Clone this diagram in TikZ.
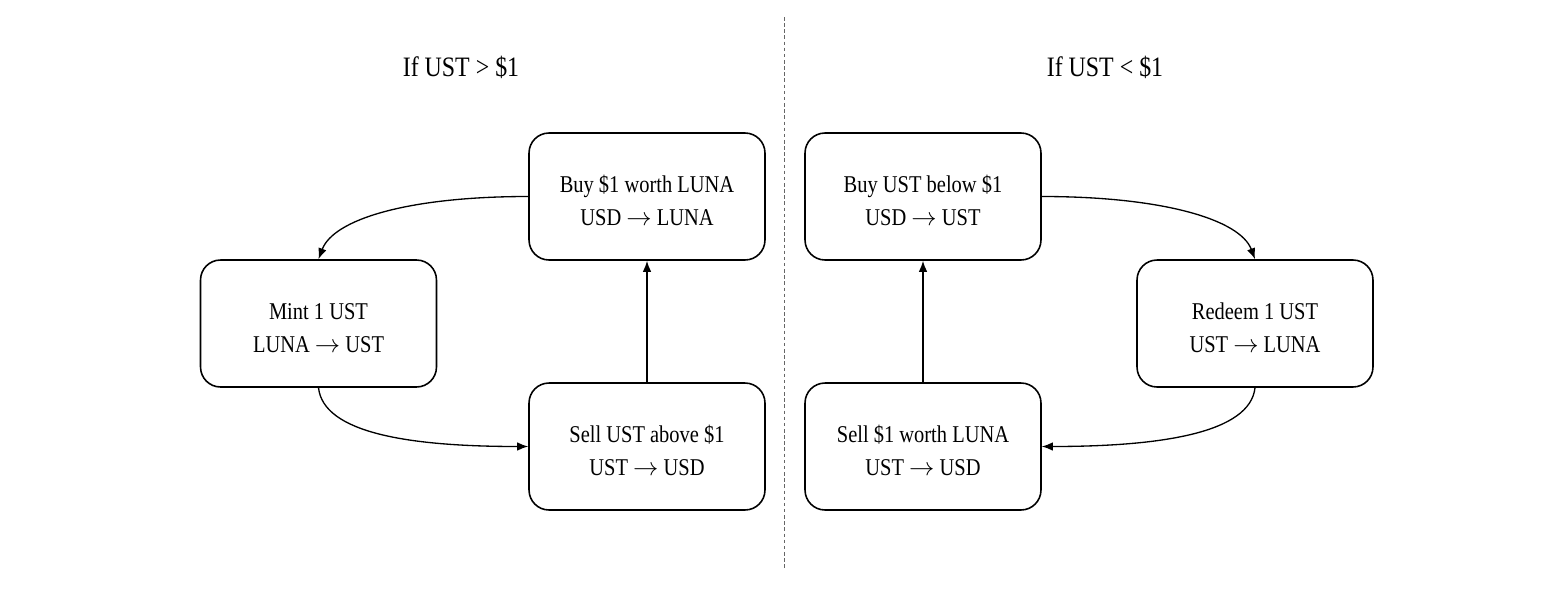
\documentclass[tikz,border=0pt]{standalone}
\usepackage{fontspec}
\setmainfont{Liberation Serif}[FakeStretch=0.85]
\usetikzlibrary{arrows.meta}
\newcommand{\arr}{$\rightarrow$}
\begin{document}
\begin{tikzpicture}[x=0.02cm,y=-0.02cm,
  stepbox/.style={draw, line width=0.9pt, rounded corners=0.4cm, minimum width=4.72cm, minimum height=2.54cm, align=center, inner sep=0pt, text height=37.4pt, text depth=4pt, font=\fontsize{13.7}{18.7}\selectfont},
  titletext/.style={font=\fontsize{16}{18}\selectfont, anchor=base},
  conn/.style={line width=0.75pt, -{Latex[length=2.2mm,width=1.7mm]}}]
\useasboundingbox (0,0) rectangle (1562,592);
\node[titletext] (t1) at (461,76) {If UST > \$1};
\node[titletext] (t2) at (1105,76) {If UST < \$1};
\coordinate (d1) at (784,17);
\coordinate (d2) at (784,570);
\draw[dash pattern=on 2pt off 1.5pt, line width=0.4pt, gray!80!black] (d1) -- (d2);
% left
\node[stepbox] (buyluna) at (647,196.5) {Buy \$1 worth LUNA\\USD \arr{} LUNA};
\node[stepbox] (mint) at (318.5,323.5) {Mint 1 UST\\LUNA \arr{} UST};
\node[stepbox] (sellust) at (647,446.5) {Sell UST above \$1\\UST \arr{} USD};
% right
\node[stepbox] (buyust) at (923,196.5) {Buy UST below \$1\\USD \arr{} UST};
\node[stepbox] (redeem) at (1255,323.5) {Redeem 1 UST\\UST \arr{} LUNA};
\node[stepbox] (sellluna) at (923,446.5) {Sell \$1 worth LUNA\\UST \arr{} USD};
% connectors
\draw[conn] (buyluna.west) .. controls +(-120,0) and +(15,-40) .. (mint.north);
\draw[conn] (mint.south) .. controls +(5,45) and +(-120,0) .. (sellust.west);
\draw[conn] (sellust.north) -- (buyluna.south);
\draw[conn] (buyust.east) .. controls +(120,0) and +(-15,-40) .. (redeem.north);
\draw[conn] (redeem.south) .. controls +(-5,45) and +(120,0) .. (sellluna.east);
\draw[conn] (sellluna.north) -- (buyust.south);
\end{tikzpicture}
\end{document}
